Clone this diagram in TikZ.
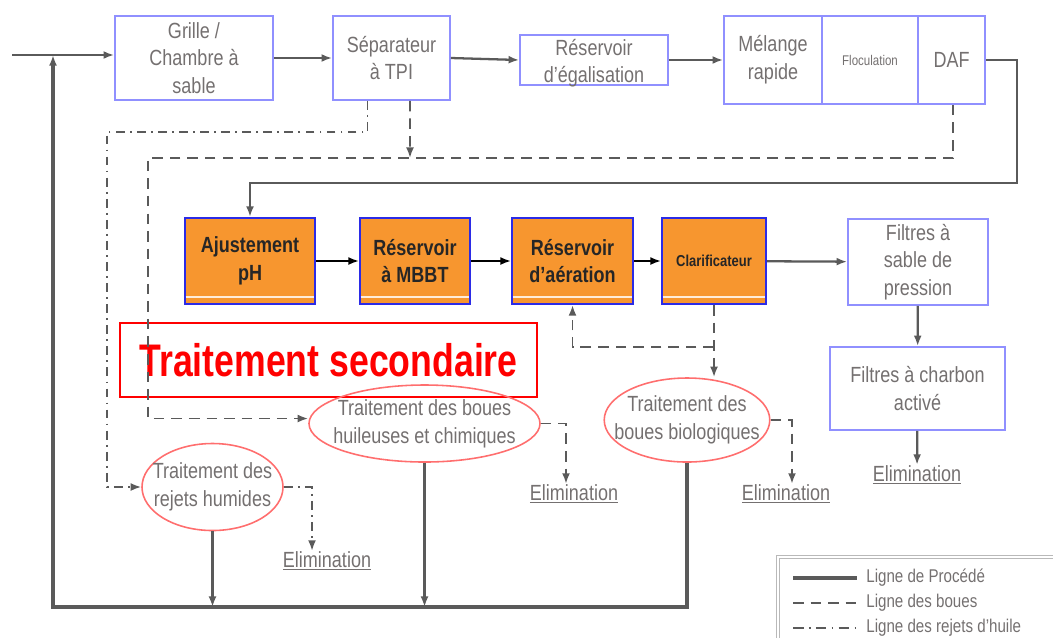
\documentclass[tikz,border=0pt]{standalone}
\usepackage{fontspec}
\setmainfont{Liberation Sans}[FakeStretch=0.82]
\newfontfamily\titlefont{Liberation Sans}[FakeStretch=0.78]
\usetikzlibrary{arrows.meta,shapes.geometric}

\definecolor{txtgray}{HTML}{747070}
\definecolor{linegray}{HTML}{5A5A5A}
\definecolor{boxblue}{HTML}{9090FF}
\definecolor{secblue}{HTML}{2B2BE6}
\definecolor{secorange}{HTML}{F7962F}
\definecolor{ellred}{HTML}{FF6E6E}
\definecolor{titlered}{HTML}{FF0000}

\begin{document}
\begin{tikzpicture}[
      x = 0.02cm, y = -0.02cm,
      every node/.style = {
        font = \fontsize{12.5}{15.8}\selectfont, align = center, inner sep = 0pt},
      boxsize/.style 2 args = {minimum width = #1*0.02cm, minimum height = #2*0.02cm},
      proc/.style = {draw = boxblue, line width = 1pt, text = txtgray},
      sec/.style = {draw = secblue, fill = secorange, line width = 1.2pt, text = black!85,
        font = \fontsize{12.5}{15.8}\selectfont\bfseries},
      boue/.style = {ellipse, draw = ellred, line width = .9pt, text = txtgray, inner sep = -8pt},
      elim/.style = {text = txtgray},
      legende/.style = {anchor = west, text = txtgray, font = \fontsize{10.5}{12}\selectfont},
      flow/.style = {draw = linegray, line width = 1.3pt, -{Latex[length=6pt,width=4.5pt]}},
      sludge/.style = {flow, line width = 1.1pt, dash pattern = on 6pt off 4pt},
      oil/.style = {flow, line width = 1pt, dash pattern = on 5pt off 3pt on 1pt off 3pt}
      ]
    \useasboundingbox (0,0) rectangle (1053,637);

    % pretraitement
    \node[proc, boxsize={158}{84}] (grille) at (194,58) {Grille /\\Chambre à\\sable}; % 0
    \node[proc, boxsize={117}{84}] (sep) at (391.5,58) {Séparateur\\à TPI}; % 1
    \node[proc, boxsize={148}{50}] (egal) at (594,60)
      {\raisebox{-5pt}[0pt][0pt]{\begin{tabular}{@{}c@{}}Réservoir\\d’égalisation\end{tabular}}}; % 2
    \node[proc, boxsize={98}{88}] (melange) at (773,60) {Mélange\\rapide}; % 3
    \node[proc, boxsize={96}{88}, font=\fontsize{8}{10}\selectfont] (floc) at (870,60) {Floculation}; % 4
    \node[proc, boxsize={67}{88}] (daf) at (951.5,60) {DAF}; % 5

    % traitement secondaire
    \node[sec, boxsize={130}{86}] (ajust) at (250,261) {Ajustement\\pH}; % 6
    \node[sec, boxsize={110}{86}] (mbbt) at (415,261) {Réservoir\\à MBBT}; % 7
    \node[sec, boxsize={121}{86}] (aera) at (572.5,261) {Réservoir\\d’aération}; % 8
    \node[sec, boxsize={104}{86}, font=\fontsize{9}{11}\selectfont\bfseries] (clar) at (714,261) {Clarificateur}; % 9
    \node[proc, boxsize={140}{86}] (sable) at (918,262) {Filtres à\\sable de\\pression}; % 10
    \node[proc, boxsize={175}{83}] (charbon) at (917.5,388.5) {Filtres à charbon\\activé}; % 11
    \node[draw=titlered, line width=1.5pt, boxsize={417}{74}, text=titlered,
      font=\titlefont\bfseries\fontsize{26}{30}\selectfont] (titre) at (328.5,360) {Traitement secondaire};

    % boues
    \node[boue, boxsize={231}{77}] (huile) at (424.5,423.5) {Traitement des boues\\huileuses et chimiques}; % 12
    \node[boue, boxsize={158}{84}] (bio) at (687,420) {Traitement des\\boues biologiques}; % 13
    \node[boue, boxsize={141}{87}] (humide) at (212.5,487) {Traitement des\\rejets humides}; % 14
    \node[elim] (elim1) at (327,561) {\underline{Elimination}};
    \node[elim] (elim2) at (574,494) {\underline{Elimination}};
    \node[elim] (elim3) at (786,494) {\underline{Elimination}};
    \node[elim] (elim4) at (917,475) {\underline{Elimination}};

    \coordinate (entree) at (12,55);
    \coordinate (jonction) at (53,55);
    \coordinate (retour) at (53,607);
    \coordinate (coude) at (1017,183);
    \coordinate (huileg) at (107,132);
    \coordinate (bouesg) at (148,158);
    \coordinate (bouesd) at (410,158);
    \coordinate (clarb) at (714,347);

    \foreach \n in {ajust,mbbt,aera,clar}
      \draw[white!85!orange, line width=1.2pt]
        ([xshift=1pt,yshift=.16cm]\n.south west) -- ([xshift=-1pt,yshift=.16cm]\n.south east);

    % ligne de procede
    \draw[flow] (entree) -- (entree -| grille.west);
    \draw[flow] (grille.east) -- (sep.west);
    \draw[flow] (sep.east) -- (egal.west);
    \draw[flow] (egal.east) -- (melange.west);
    \draw[flow] (daf.east) -| (coude) -| (ajust.north);
    \foreach \a/\b in {ajust/mbbt, mbbt/aera, aera/clar}
      \draw[flow, draw=black, line width=1pt] (\a) -- (\b);
    \draw[flow] (clar) -- (sable);
    \draw[flow] (sable) -- (charbon);
    \draw[flow] (charbon) -- (elim4);
    \draw[flow] (humide.south) -- (humide.south |- retour);
    \draw[flow] (huile.south) -- (huile.south |- retour);
    \draw[flow, line width=1.8pt] (bio.south) |- (retour) -- (jonction);

    % ligne des boues
    \draw[sludge] ([xshift=.37cm]sep.south) -- (bouesd);
    \draw[sludge] ([xshift=.03cm]daf.south) |- (bouesg) |- ([yshift=.1cm]huile.west);
    \draw[sludge] (clar.south) -- (clar.south |- bio.north);
    \draw[sludge] (clarb) -| (aera.south);
    \draw[sludge] (huile.east) -| ([xshift=-.16cm]elim2.north);
    \draw[sludge] (bio.east) -| ([xshift=.12cm]elim3.north);

    % ligne des rejets d'huile
    \draw[oil] ([xshift=-.48cm]sep.south) |- (huileg) |- (humide.west);
    \draw[oil] (humide.east) -| ([xshift=-.3cm]elim1.north);

    % legende
    \draw[gray!55, line width=1pt, double=white, double distance=.8pt] (778,557) rectangle (1080,660);
    \node[legende] (lg1) at (866,578) {Ligne de Procédé};
    \node[legende] (lg2) at (866,603) {Ligne des boues};
    \node[legende] (lg3) at (866,628) {Ligne des rejets d’huile};
    \coordinate (lp1) at (793,578);
    \coordinate (lp2) at (793,603);
    \coordinate (lp3) at (793,628);
    \draw[flow, -, line width=1.8pt] (lp1) -- ([xshift=-.18cm]lg1.west);
    \draw[sludge, -] (lp2) -- ([xshift=-.18cm]lg2.west);
    \draw[oil, -, dash pattern=on 6pt off 3pt on 1pt off 3pt] (lp3) -- ([xshift=-.18cm]lg3.west);
  \end{tikzpicture}
\end{document}
